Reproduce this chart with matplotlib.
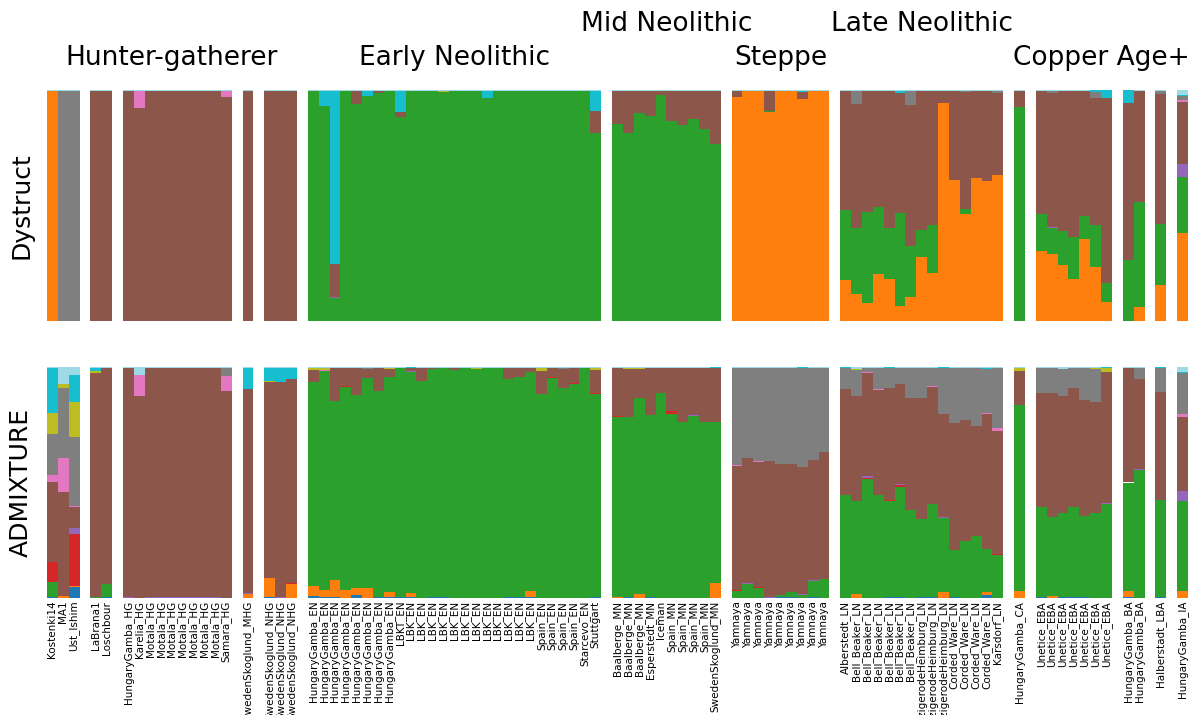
import matplotlib.pyplot as plt
import numpy as np
from matplotlib import transforms

# ancestry components, stacked bottom to top
components = ['B', 'O', 'G', 'R', 'P', 'N', 'K', 'Y', 'L', 'C', 'T']
colors = ['#1f77b4', '#ff7f0e', '#2ca02c', '#d62728', '#9467bd', '#8c564b',
          '#e377c2', '#7f7f7f', '#bcbd22', '#17becf', '#9edae5']

eras = ['Hunter-gatherer', 'Early Neolithic', 'Mid Neolithic', 'Steppe',
        'Late Neolithic', 'Copper Age+']
title_high = [False, False, True, False, True, False]

panels_hg = [['Kostenki14', 'MA1', 'Ust_Ishim'],
             ['LaBrana1', 'Loschbour'],
             ['HungaryGamba_HG', 'Karelia_HG'] + ['Motala_HG'] * 7 + ['Samara_HG'],
             ['SwedenSkoglund_MHG'],
             ['SwedenSkoglund_NHG'] * 3]
panels_en = [['HungaryGamba_EN'] * 8 + ['LBKT_EN'] + ['LBK_EN'] * 12
             + ['Spain_EN'] * 4 + ['Starcevo_EN', 'Stuttgart']]
panels_mn = [['Baalberge_MN'] * 3 + ['Esperstedt_MN', 'Iceman'] + ['Spain_MN'] * 4
             + ['SwedenSkoglund_MN']]
panels_st = [['Yamnaya'] * 9]
panels_ln = [['Alberstedt_LN'] + ['Bell_Beaker_LN'] * 6 + ['BenzigerodeHeimburg_LN'] * 3
             + ['Corded_Ware_LN'] * 4 + ['Karsdorf_LN']]
panels_ca = [['HungaryGamba_CA'], ['Unetice_EBA'] * 7, ['HungaryGamba_BA'] * 2,
             ['Halberstadt_LBA'], ['HungaryGamba_IA']]

# Dystruct ancestry proportions
dys_hg = [dict(O=.996, T=.004), dict(Y=.996, T=.004), dict(Y=.996, T=.004),
          dict(N=.996, T=.004), dict(N=.996, T=.004),
          dict(N=.996, T=.004), dict(N=.924, K=.072, T=.004)] + \
         [dict(N=.996, T=.004)] * 7 + \
         [dict(N=.971, K=.025, T=.004),
          dict(N=.996, T=.004)] + [dict(N=.996, T=.004)] * 3
dys_en = [dict(G=.996, T=.004), dict(G=.932, C=.064, T=.004),
          dict(G=.10, P=.003, N=.145, C=.748, T=.004), dict(G=.996, T=.004),
          dict(G=.941, N=.055, T=.004), dict(G=.976, C=.02, T=.004),
          dict(G=.987, N=.009, T=.004), dict(G=.996, T=.004),
          dict(G=.884, N=.022, C=.09, T=.004),
          dict(G=.996, T=.004), dict(G=.996, T=.004), dict(G=.996, T=.004),
          dict(G=.991, L=.005, T=.004), dict(G=.996, T=.004), dict(G=.996, T=.004),
          dict(G=.996, T=.004), dict(G=.967, C=.029, T=.004)] + \
         [dict(G=.996, T=.004)] * 4 + [dict(G=.996, T=.004)] * 4 + \
         [dict(G=.996, T=.004), dict(G=.813, N=.098, C=.085, T=.004)]
dys_mn = [dict(G=.854, N=.142, T=.004), dict(G=.816, N=.18, T=.004),
          dict(G=.901, N=.095, T=.004), dict(G=.889, N=.107, T=.004),
          dict(G=.979, N=.017, T=.004), dict(G=.866, N=.13, T=.004),
          dict(G=.85, N=.146, T=.004), dict(G=.875, N=.121, T=.004),
          dict(G=.832, N=.164, T=.004), dict(G=.768, N=.228, T=.004)]
dys_st = [dict(O=.971, N=.025, T=.004), dict(O=.996, T=.004), dict(O=.996, T=.004),
          dict(O=.904, G=.004, N=.088, T=.004), dict(O=.996, T=.004),
          dict(O=.996, T=.004), dict(O=.963, N=.029, C=.004, T=.004),
          dict(O=.996, T=.004), dict(O=.996, T=.004)]
dys_ln = [dict(O=.176, G=.303, N=.517, T=.004),
          dict(O=.115, G=.287, N=.539, Y=.055, T=.004),
          dict(O=.078, G=.396, N=.522, T=.004),
          dict(O=.202, G=.29, N=.504, T=.004),
          dict(O=.18, G=.222, N=.594, T=.004),
          dict(O=.063, G=.406, N=.52, C=.007, T=.004),
          dict(O=.102, G=.222, N=.613, Y=.059, T=.004),
          dict(O=.275, G=.121, N=.60, T=.004),
          dict(O=.207, G=.21, N=.579, T=.004),
          dict(O=.945, N=.051, T=.004),
          dict(O=.612, N=.384, T=.004),
          dict(O=.465, G=.022, N=.503, Y=.006, T=.004),
          dict(O=.617, G=.004, N=.375, T=.004),
          dict(O=.608, N=.388, T=.004),
          dict(O=.634, N=.355, Y=.007, T=.004)]
dys_ca = [dict(G=.928, N=.068, T=.004),
          dict(O=.301, G=.164, N=.531, T=.004),
          dict(O=.288, G=.114, P=.004, N=.583, Y=.007, T=.004),
          dict(O=.241, G=.147, N=.608, T=.004),
          dict(O=.18, G=.182, N=.634, T=.004),
          dict(O=.357, G=.099, N=.54, T=.004),
          dict(O=.232, G=.182, N=.553, Y=.026, C=.007),
          dict(O=.081, G=.082, N=.804, C=.033),
          dict(G=.262, N=.683, C=.055),
          dict(O=.059, G=.458, N=.479, T=.004),
          dict(O=.158, G=.264, N=.562, Y=.012, T=.004),
          dict(O=.379, G=.246, P=.056, N=.268, K=.009, Y=.017, C=.004, T=.021)]

# ADMIXTURE ancestry proportions
adm_hg = [dict(B=.004, G=.065, R=.086, N=.349, K=.03, Y=.177, L=.091, C=.194, T=.004),
          dict(O=.009, N=.452, K=.147, Y=.302, L=.017, T=.073),
          dict(B=.047, O=.004, R=.224, P=.026, N=.095, K=.004, Y=.295, L=.155, C=.116, T=.034),
          dict(G=.004, N=.969, L=.01, C=.013, T=.004),
          dict(B=.003, G=.056, N=.935, T=.006),
          dict(P=.003, N=.991, T=.006),
          dict(N=.875, K=.091, T=.034)] + \
         [dict(P=.003, N=.991, T=.006)] * 7 + \
         [dict(N=.897, K=.065, Y=.034, T=.004),
          dict(O=.017, P=.004, N=.884, C=.091, T=.004),
          dict(B=.004, O=.082, N=.85, L=.004, C=.056, T=.004),
          dict(P=.004, N=.932, C=.06, T=.004),
          dict(O=.06, R=.004, N=.885, C=.047, T=.004)]
adm_en = [dict(B=.009, O=.043, G=.883, N=.052, L=.009, T=.004),
          dict(B=.004, O=.03, G=.949, K=.004, L=.009, T=.004),
          dict(B=.004, O=.073, G=.777, N=.142, T=.004),
          dict(O=.034, G=.88, R=.004, N=.078, T=.004),
          dict(B=.013, O=.03, G=.837, N=.116, T=.004),
          dict(O=.043, G=.91, N=.039, Y=.004, T=.004),
          dict(B=.004, G=.893, N=.099, T=.004),
          dict(B=.004, O=.022, G=.932, N=.034, L=.004, T=.004),
          dict(B=.004, G=.992, T=.004),
          dict(B=.004, O=.017, G=.958, P=.004, N=.013, C=.004),
          dict(G=.94, N=.056, T=.004),
          dict(B=.004, G=.988, N=.004, T=.004),
          dict(B=.004, G=.992, T=.004),
          dict(G=.987, N=.009, T=.004),
          dict(G=.996, T=.004),
          dict(G=.992, L=.004, T=.004),
          dict(G=.996, T=.004),
          dict(G=.996, T=.004),
          dict(B=.004, G=.945, N=.047, T=.004),
          dict(B=.004, G=.953, N=.039, T=.004),
          dict(B=.004, O=.026, G=.949, N=.017, T=.004),
          dict(G=.884, N=.099, L=.013, T=.004),
          dict(G=.953, R=.004, N=.039, T=.004),
          dict(G=.91, N=.082, Y=.004, T=.004),
          dict(G=.927, R=.004, N=.065, T=.004),
          dict(G=.996, T=.004),
          dict(B=.004, G=.88, R=.004, N=.099, L=.009, T=.004)]
adm_mn = [dict(O=.004, G=.781, R=.004, N=.207, T=.004),
          dict(B=.004, G=.781, N=.207, L=.004, T=.004),
          dict(O=.017, G=.85, N=.125, L=.004, T=.004),
          dict(B=.004, G=.789, N=.203, T=.004),
          dict(G=.888, N=.108, T=.004),
          dict(G=.798, R=.013, N=.185, T=.004),
          dict(G=.763, N=.233, T=.004),
          dict(G=.789, P=.004, N=.203, T=.004),
          dict(G=.763, N=.233, T=.004),
          dict(O=.065, G=.698, N=.233, C=.004)]
adm_st = [dict(G=.03, R=.004, N=.539, K=.004, Y=.419, T=.004),
          dict(G=.06, P=.004, N=.543, Y=.389, T=.004),
          dict(G=.043, R=.004, N=.543, K=.004, Y=.402, T=.004),
          dict(P=.004, N=.587, Y=.405, T=.004),
          dict(B=.004, G=.009, N=.565, K=.004, Y=.414, T=.004),
          dict(B=.004, G=.022, N=.556, Y=.414, T=.004),
          dict(G=.013, P=.004, N=.552, Y=.427, C=.004),
          dict(B=.004, G=.069, P=.004, N=.522, Y=.397, T=.004),
          dict(G=.082, N=.552, Y=.362, T=.004)]
adm_ln = [dict(G=.444, N=.461, Y=.091, C=.004),
          dict(O=.017, G=.405, N=.453, Y=.112, L=.004, T=.009),
          dict(G=.517, R=.004, P=.009, N=.445, K=.004, Y=.017, T=.004),
          dict(G=.444, N=.457, K=.004, Y=.091, T=.004),
          dict(B=.004, G=.418, R=.004, N=.484, Y=.086, C=.004),
          dict(B=.004, G=.478, R=.009, P=.004, N=.432, Y=.069, T=.004),
          dict(G=.379, N=.487, Y=.13, T=.004),
          dict(B=.004, G=.336, N=.527, Y=.129, T=.004),
          dict(B=.004, G=.405, N=.505, K=.004, Y=.078, T=.004),
          dict(O=.026, G=.319, P=.004, N=.448, Y=.199, C=.004),
          dict(B=.004, G=.203, N=.552, Y=.237, T=.004),
          dict(G=.246, N=.526, Y=.224, T=.004),
          dict(G=.267, N=.478, Y=.251, T=.004),
          dict(B=.013, O=.013, G=.185, N=.587, K=.004, Y=.19, C=.004, T=.004),
          dict(G=.185, R=.004, N=.534, K=.013, Y=.26, T=.004)]
adm_ca = [dict(O=.03, G=.806, N=.147, L=.013, T=.004),
          dict(B=.004, G=.388, N=.496, Y=.108, T=.004),
          dict(O=.009, G=.341, N=.538, Y=.108, T=.004),
          dict(B=.004, G=.366, N=.505, Y=.116, T=.009),
          dict(B=.004, G=.388, N=.518, Y=.086, T=.004),
          dict(B=.004, G=.353, N=.50, Y=.139, T=.004),
          dict(G=.366, N=.483, Y=.143, L=.004, T=.004),
          dict(G=.409, P=.004, N=.566, L=.017, C=.004),
          dict(B=.004, O=.026, G=.466, R=.004, N=.496, T=.004),
          dict(G=.556, P=.004, N=.389, Y=.047, T=.004),
          dict(B=.004, G=.422, N=.467, Y=.103, C=.004),
          dict(O=.03, G=.388, R=.004, P=.043, N=.319, K=.013, Y=.177, C=.004, T=.022)]

panels = [panels_hg, panels_en, panels_mn, panels_st, panels_ln, panels_ca]
dystruct = dys_hg + dys_en + dys_mn + dys_st + dys_ln + dys_ca
admixture = adm_hg + adm_en + adm_mn + adm_st + adm_ln + adm_ca

# lay samples out left to right with one empty slot between panels
positions, labels, era_span = [], [], []
slot = 0
for era_panels in panels:
    start = slot
    for panel in era_panels:
        for name in panel:
            positions.append(slot)
            labels.append(name)
            slot += 1
        slot += 1
    era_span.append((start, slot - 2))
n_slots = slot - 1
positions = np.array(positions)


def to_matrix(rows):
    return np.array([[r.get(c, 0.0) for c in components] for r in rows])


fig = plt.figure(figsize=(11.93, 7.15), dpi=100)
ax_top = fig.add_axes([47 / 1193, 1 - 321 / 715, 1141 / 1193, 231 / 715])
ax_bot = fig.add_axes([47 / 1193, 1 - 598 / 715, 1141 / 1193, 231 / 715])

for ax, rows, name in [(ax_top, dystruct, 'Dystruct'), (ax_bot, admixture, 'ADMIXTURE')]:
    q = to_matrix(rows)
    bottom = np.zeros(len(q))
    for k, col in enumerate(colors):
        ax.bar(positions, q[:, k], bottom=bottom, width=1.0, color=col,
               linewidth=0, edgecolor='none')
        bottom += q[:, k]
    ax.set_xlim(-0.5, n_slots - 0.5)
    ax.set_ylim(0, 1)
    for s in ax.spines.values():
        s.set_visible(False)
    ax.set_yticks([])
    ax.set_ylabel(name, fontsize=18, labelpad=10)

ax_top.set_xticks([])
# long sample names run off the bottom edge, as in the original figure
ax_bot.set_xticks(positions, labels, rotation=90, fontsize=7.5)
ax_bot.tick_params(axis='x', length=0, pad=2)

# era headings, alternating height where neighbours would collide
trans = transforms.blended_transform_factory(ax_top.transData, fig.transFigure)
for title, high, (a, b) in zip(eras, title_high, era_span):
    y = 1 - 24 / 715 if high else 1 - 58 / 715
    ax_top.text((a + b) / 2, y, title, transform=trans, ha='center', va='center',
                fontsize=19)

fig.savefig('out.png', dpi=100)
